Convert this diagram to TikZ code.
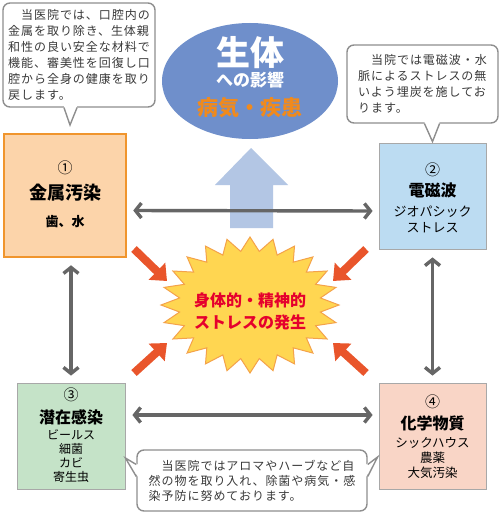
\documentclass[tikz,border=0pt]{standalone}
\usepackage{fontspec}
\setmainfont{Noto Sans CJK JP}
\newfontfamily\notefont[LetterSpace=8]{Noto Sans CJK JP}
\usetikzlibrary{arrows.meta,shapes.geometric}

\definecolor{linkgray}{HTML}{666666}
\definecolor{hitred}{HTML}{E9552B}
\definecolor{skyfill}{HTML}{6F8FCB}
\definecolor{upblue}{HTML}{B3C6E4}
\definecolor{metalfill}{HTML}{FCD4AA}
\definecolor{metaledge}{HTML}{F0952D}
\definecolor{wavefill}{HTML}{BCDCF2}
\definecolor{germfill}{HTML}{C5E3C8}
\definecolor{chemfill}{HTML}{F9D5C6}
\definecolor{boxedge}{HTML}{A8A8A8}
\definecolor{noteedge}{HTML}{8E8E8E}
\definecolor{burstfill}{HTML}{FFD651}
\definecolor{burstedge}{HTML}{F4A24A}
\definecolor{stressred}{HTML}{E5002D}
\definecolor{illorange}{HTML}{F18A1C}
\definecolor{notetext}{HTML}{3A3A3A}

\tikzstyle{factor}=[draw=boxedge, line width=0.8pt, minimum width=107pt, minimum height=106pt, inner sep=0pt]
\tikzstyle{note}=[draw=noteedge, line width=1.4pt, rounded corners=7pt, fill=white, inner sep=0pt, align=left, text=notetext]
\tikzstyle{tail}=[draw=noteedge, line width=1.4pt, line join=miter]
\tikzstyle{link}=[draw=linkgray, line width=3.4pt, >={Straight Barb[length=6pt,width=15pt]}, <->]
\tikzstyle{push}=[draw=hitred, line width=8pt, -{Triangle[length=14pt,width=23pt]}]
\tikzstyle{num}=[font=\fontsize{15}{15}\selectfont, inner sep=0pt]
\tikzstyle{title}=[font=\bfseries\fontsize{16}{16}\selectfont, inner sep=0pt]
\tikzstyle{sub}=[align=center, inner sep=0pt]

\begin{document}
\begin{tikzpicture}[x=1pt,y=-1pt]
  \useasboundingbox[fill=white] (0,0) rectangle (500,516);

  % upward arrow to the body
  \fill[upblue] (230,228) -- (230,185) -- (215,185) -- (251,148) -- (288,185) -- (273,185) -- (273,228) -- cycle;

  \node[ellipse, fill=skyfill, minimum width=176pt, minimum height=116pt] (body) at (250,81) {};
  \node[font=\bfseries\fontsize{34}{34}\selectfont, text=white, inner sep=0pt] (bodyA) at ([yshift=28pt]body.center) {生体};
  \node[font=\bfseries\fontsize{17}{17}\selectfont, text=white, inner sep=0pt] (bodyB) at ([yshift=1pt]body.center) {への影響};
  \node[font=\bfseries\fontsize{21}{21}\selectfont, text=illorange, inner sep=0pt] (bodyC) at ([yshift=-27pt]body.center) {病気・疾患};

  % the four factors
  \node[factor, draw=metaledge, line width=2.5pt, fill=metalfill, minimum width=122pt, minimum height=123pt] (b1) at (65,195.5) {};
  \node[factor, fill=wavefill] (b2) at (432.5,196) {};
  \node[factor, fill=germfill, minimum width=108pt] (b3) at (71,436) {};
  \node[factor, fill=chemfill] (b4) at (432.5,436) {};

  \node[num] (b1n) at ([yshift=27.5pt]b1.center) {①};
  \node[title, font=\bfseries\fontsize{18}{18}\selectfont] (b1t) at ([yshift=2.5pt]b1.center) {金属汚染};
  \node[sub, font=\bfseries\fontsize{13}{15}\selectfont] (b1s) at ([yshift=-26.5pt]b1.center) {歯、水};

  \node[num] (b2n) at ([yshift=26pt]b2.center) {②};
  \node[title] (b2t) at ([yshift=6pt]b2.center) {電磁波};
  \node[sub, font=\fontsize{13}{16}\selectfont] (b2s) at ([yshift=-23pt]b2.center) {ジオパシック\\ストレス};

  \node[num] (b3n) at ([yshift=41pt]b3.center) {③};
  \node[title] (b3t) at ([yshift=19pt]b3.center) {潜在感染};
  \node[sub, font=\fontsize{12}{14}\selectfont] (b3s) at ([yshift=-20pt]b3.center) {ビールス\\細菌\\カビ\\寄生虫};

  \node[num] (b4n) at ([yshift=34pt]b4.center) {④};
  \node[title] (b4t) at ([yshift=13pt]b4.center) {化学物質};
  \node[sub, font=\fontsize{12.5}{15}\selectfont] (b4s) at ([yshift=-22pt]b4.center) {シックハウス\\農薬\\大気汚染};

  \draw[link, shorten <=6pt, shorten >=6pt] ([yshift=-15pt]b1.east) -- ([yshift=-15pt]b2.west);
  \draw[link, shorten <=7pt, shorten >=6pt] ([yshift=21pt]b3.east) -- ([yshift=21pt]b4.west);
  \draw[link, shorten <=7pt, shorten >=7pt] (b1.south -| b3.north) -- (b3.north);
  \draw[link, shorten <=8pt, shorten >=7pt] (b2.south) -- (b4.north);

  % stress burst
  \draw[fill=burstfill, draw=burstedge, line width=1pt, shift={(250,305)}] (90:89pt and 68pt)
    \foreach \i [evaluate=\i as \rx using {mod(\i,2)==0 ? 89 : 71}, evaluate=\i as \ry using {mod(\i,2)==0 ? 68 : 54}] in {1,...,47} { -- ({90+7.5*\i}:\rx pt and \ry pt) } -- cycle;
  \node[font=\bfseries\fontsize{16}{22}\selectfont, text=stressred, align=center, inner sep=0pt] (stress) at (250,311) {身体的・精神的\\ストレスの発生};

  \coordinate (p1a) at (134,249); \coordinate (p1b) at (167,281);
  \coordinate (p2a) at (366,249); \coordinate (p2b) at (333,281);
  \coordinate (p3a) at (134,373); \coordinate (p3b) at (167,343);
  \coordinate (p4a) at (366,373); \coordinate (p4b) at (333,343);
  \foreach \k in {1,2,3,4}
    \draw[push] (p\k a) -- (p\k b);

  % notes
  \node[note, minimum width=152pt, minimum height=104pt, font=\notefont\fontsize{12}{16}\selectfont] (c1) at (79,55) {
　当医院では、口腔内の\\
金属を取り除き、生体親\\
和性の良い安全な材料で\\
機能、審美性を回復し口\\
腔から全身の健康を取り\\
戻します。};
  \coordinate (c1tip) at (70,125);
  \fill[white] ([xshift=-15pt,yshift=1.5pt]c1.south) -- (c1tip) -- ([xshift=-2pt,yshift=1.5pt]c1.south) -- cycle;
  \draw[tail] ([xshift=-15pt]c1.south) -- (c1tip) -- ([xshift=-2pt]c1.south);

  \node[note, minimum width=151pt, minimum height=78pt, font=\notefont\fontsize{12}{16}\selectfont] (c2) at (422.5,84) {
　当院では電磁波・水\\
脈によるストレスの無\\
いよう埋炭を施してお\\
ります。};
  \fill[white] ([xshift=2pt,yshift=1.5pt]c2.south) -- ([yshift=1pt]b2.north) -- ([xshift=17pt,yshift=1.5pt]c2.south) -- cycle;
  \draw[tail] ([xshift=2pt]c2.south) -- ([yshift=1pt]b2.north) -- ([xshift=17pt]c2.south);

  \node[note, minimum width=230pt, minimum height=61pt, font=\notefont\fontsize{12}{15}\selectfont] (c3) at (252,480.5) {
　当医院ではアロマやハーブなど自\\
然の物を取り入れ、除菌や病気・感\\
染予防に努めております。};
  \fill[white] ([xshift=1.5pt,yshift=16pt]c3.west) -- ([yshift=-22pt]b3.east) -- ([xshift=1.5pt,yshift=4pt]c3.west) -- cycle;
  \draw[tail] ([yshift=16pt]c3.west) -- ([yshift=-22pt]b3.east) -- ([yshift=4pt]c3.west);
  \fill[white] ([xshift=-1.5pt,yshift=16pt]c3.east) -- ([xshift=-1pt,yshift=-21pt]b4.west) -- ([xshift=-1.5pt,yshift=4pt]c3.east) -- cycle;
  \draw[tail] ([yshift=16pt]c3.east) -- ([xshift=-1pt,yshift=-21pt]b4.west) -- ([yshift=4pt]c3.east);
\end{tikzpicture}
\end{document}
